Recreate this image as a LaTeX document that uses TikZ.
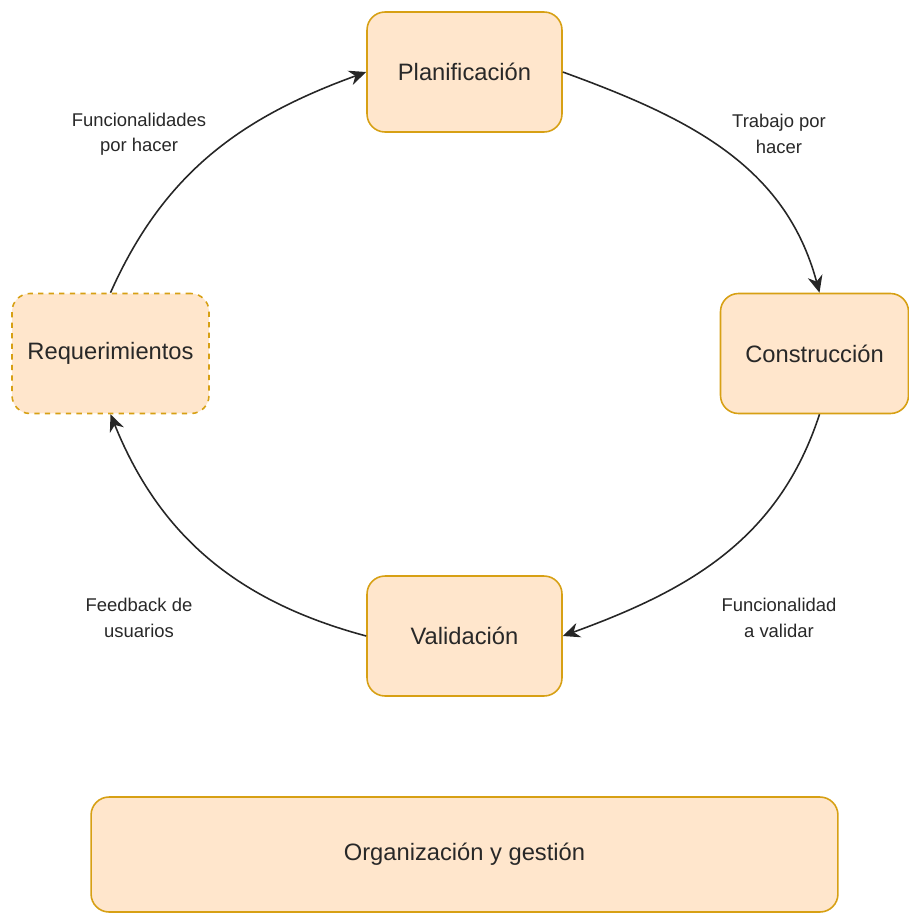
\documentclass[tikz,border=0pt]{standalone}
\usepackage{fontspec}
\setmainfont{Liberation Sans}
\usetikzlibrary{arrows.meta, positioning}
\definecolor{boxfill}{RGB}{255,230,204}
\definecolor{boxline}{RGB}{215,160,20}
\definecolor{txt}{RGB}{40,40,40}

\tikzset{
    stage/.style={draw=boxline, fill=boxfill, line width=0.9pt, rounded corners=0.36cm,
        minimum width=3.9cm, minimum height=2.4cm, text=txt,
        font=\fontsize{13.5}{16}\selectfont},
    flow/.style={-{Stealth[length=3.4mm, width=3mm, inset=1.1mm]}, line width=0.9pt, black!85},
    tag/.style={align=center, text=txt, font=\fontsize{10.5}{14.5}\selectfont}
}

\begin{document}
\begin{tikzpicture}[x=0.02cm, y=0.02cm]

    \useasboundingbox (0,0) rectangle (909,-913);

    % Stages of the cycle
    \node[stage] (plan) at (464.5,-72) {Planificación};
    \node[stage, minimum width=3.76cm] (constr) at (814.5,-353.5) {Construcción};
    \node[stage, dashed, minimum width=3.94cm] (req) at (110.5,-353.5) {Requerimientos};
    \node[stage] (valid) at (464.5,-636) {Validación};

    % Bottom bar
    \node[stage, minimum width=14.94cm, minimum height=2.3cm] (org) at (464.5,-854.5) {Organización y gestión};

    % Cycle arrows
    \draw[flow] (req.north) to[out=66, in=200] (plan.west);
    \draw[flow] (plan.east) to[out=-20, in=105] ([xshift=0.1cm]constr.north);
    \draw[flow] ([xshift=0.1cm]constr.south) to[out=-108, in=20] (valid.east);
    \draw[flow] (valid.west) to[out=165, in=-68] (req.south);

    % Arrow labels
    \node[tag] (tplan) at (139,-134) {Funcionalidades\\por hacer};
    \node[tag] (tconstr) at (779,-134) {Trabajo por\\hacer};
    \node[tag] (tvalid) at (779,-618) {Funcionalidad\\a validar};
    \node[tag] (treq) at (139,-618) {Feedback de\\usuarios};

\end{tikzpicture}
\end{document}
